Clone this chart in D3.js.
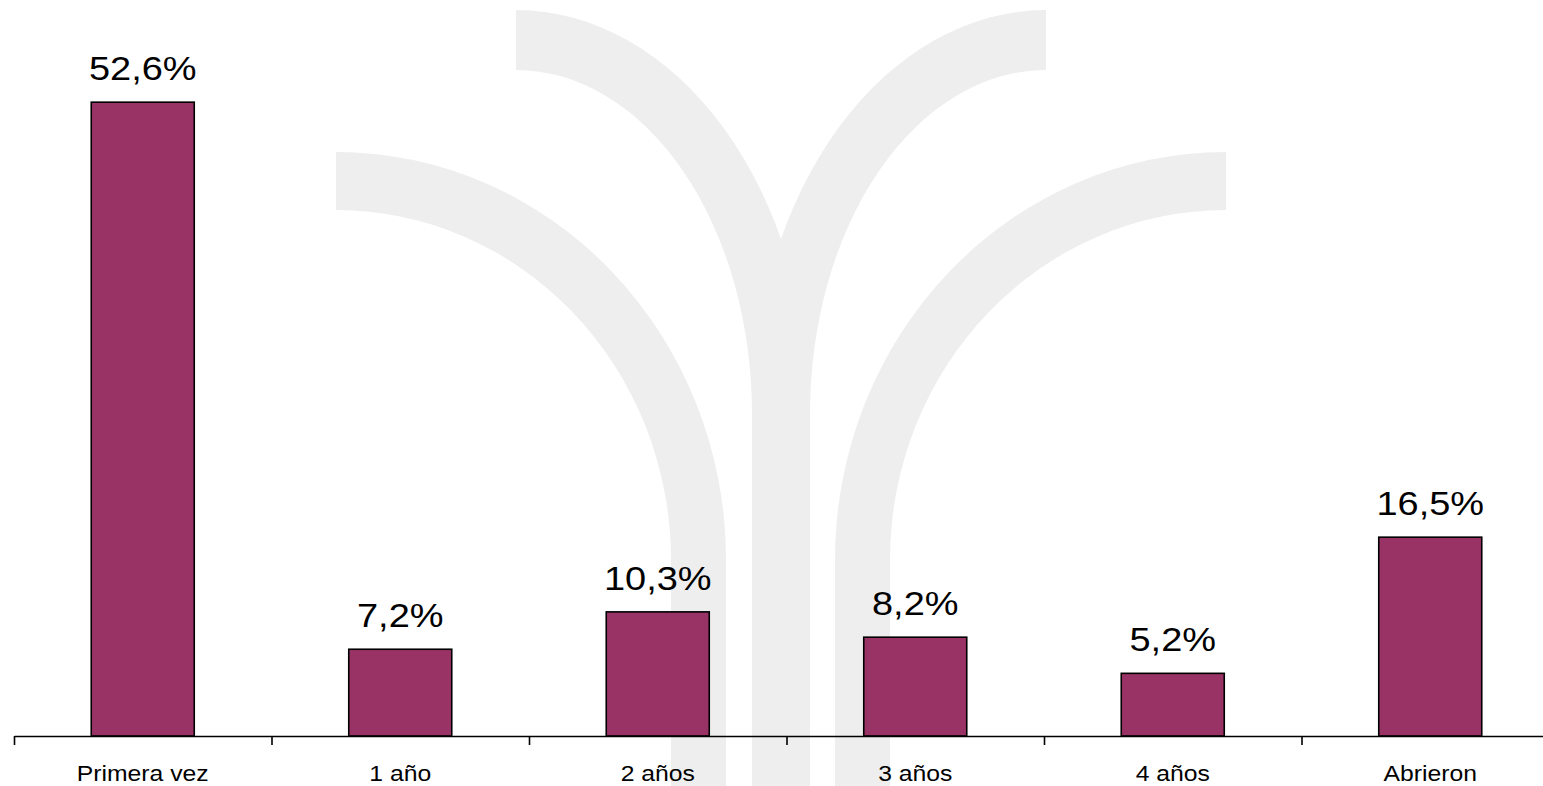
<!DOCTYPE html>
<html>
<head>
<meta charset="utf-8">
<script src="https://cdn.jsdelivr.net/npm/d3@7"></script>
<style>
  html, body { margin: 0; padding: 0; background: #ffffff; }
  svg { display: block; }
  text { font-family: "Liberation Sans", Arial, sans-serif; fill: #000; }
</style>
</head>
<body>
<svg id="chart" width="1543" height="786"></svg>
<script>
// ---- Data ----
const categories = ["Primera vez", "1 año", "2 años", "3 años", "4 años", "Abrieron"];
const values = [52.6, 7.2, 10.3, 8.2, 5.2, 16.5];
const valueLabels = ["52,6%", "7,2%", "10,3%", "8,2%", "5,2%", "16,5%"];

// ---- Layout ----
const W = 1543, H = 786;
const left = 14, step = 257.5, baseY = 736;
const svg = d3.select("#chart");

// Watermark (decorative background logo)
const wm = svg.append("g").attr("fill", "#eeeeee");
[
  "M 336 152 A 390 408 0 0 1 726 560 L 726 786 L 671 786 L 671 560 A 335 350 0 0 0 336 210 Z",
  "M 1226 152 A 391 408 0 0 0 835 560 L 835 786 L 890 786 L 890 560 A 336 350 0 0 1 1226 210 Z",
  "M 516 10 A 294 404 0 0 1 810 414 L 810 786 L 752 786 L 752 414 A 236 344 0 0 0 516 70 Z",
  "M 1046 10 A 294 404 0 0 0 752 414 L 752 786 L 810 786 L 810 414 A 236 344 0 0 1 1046 70 Z"
].forEach(d => wm.append("path").attr("d", d));

// Scales
const x = d3.scaleBand().domain(categories).range([left, left + step * categories.length]).padding(0);
const y = d3.scaleLinear().domain([0, 61.08]).range([baseY, 0]);
const barW = x.bandwidth() * 0.4;
const stretch = 1.15;

// Bars
svg.append("g").selectAll("rect")
  .data(values)
  .join("rect")
  .attr("x", (d, i) => x(categories[i]) + x.bandwidth() / 2 - barW / 2)
  .attr("y", d => y(d))
  .attr("width", barW)
  .attr("height", d => baseY - y(d))
  .attr("fill", "#993366")
  .attr("stroke", "#000")
  .attr("stroke-width", 1.6);

// Value labels
svg.append("g").selectAll("text")
  .data(values)
  .join("text")
  .attr("transform", (d, i) => `translate(${x(categories[i]) + x.bandwidth() / 2},${y(d) - 22}) scale(${stretch},1)`)
  .attr("text-anchor", "middle")
  .style("font-size", "33px")
  .text((d, i) => valueLabels[i]);

// Axis
const xi = d3.scaleLinear().domain([0, categories.length]).range([left, left + step * categories.length]);
const axis = svg.append("g").attr("transform", `translate(0,${baseY})`)
  .call(d3.axisBottom(xi).tickValues(d3.range(0, categories.length + 1)).tickSize(9).tickSizeOuter(0).tickFormat(""));
axis.select(".domain").attr("stroke", "#000").attr("stroke-width", 1.6);
axis.selectAll(".tick line").attr("stroke", "#000").attr("stroke-width", 1.6);

// Category labels
svg.append("g").selectAll("text")
  .data(categories)
  .join("text")
  .attr("transform", d => `translate(${x(d) + x.bandwidth() / 2},${781}) scale(${stretch},1)`)
  .attr("text-anchor", "middle")
  .style("font-size", "21.5px")
  .text(d => d);
</script>
</body>
</html>
